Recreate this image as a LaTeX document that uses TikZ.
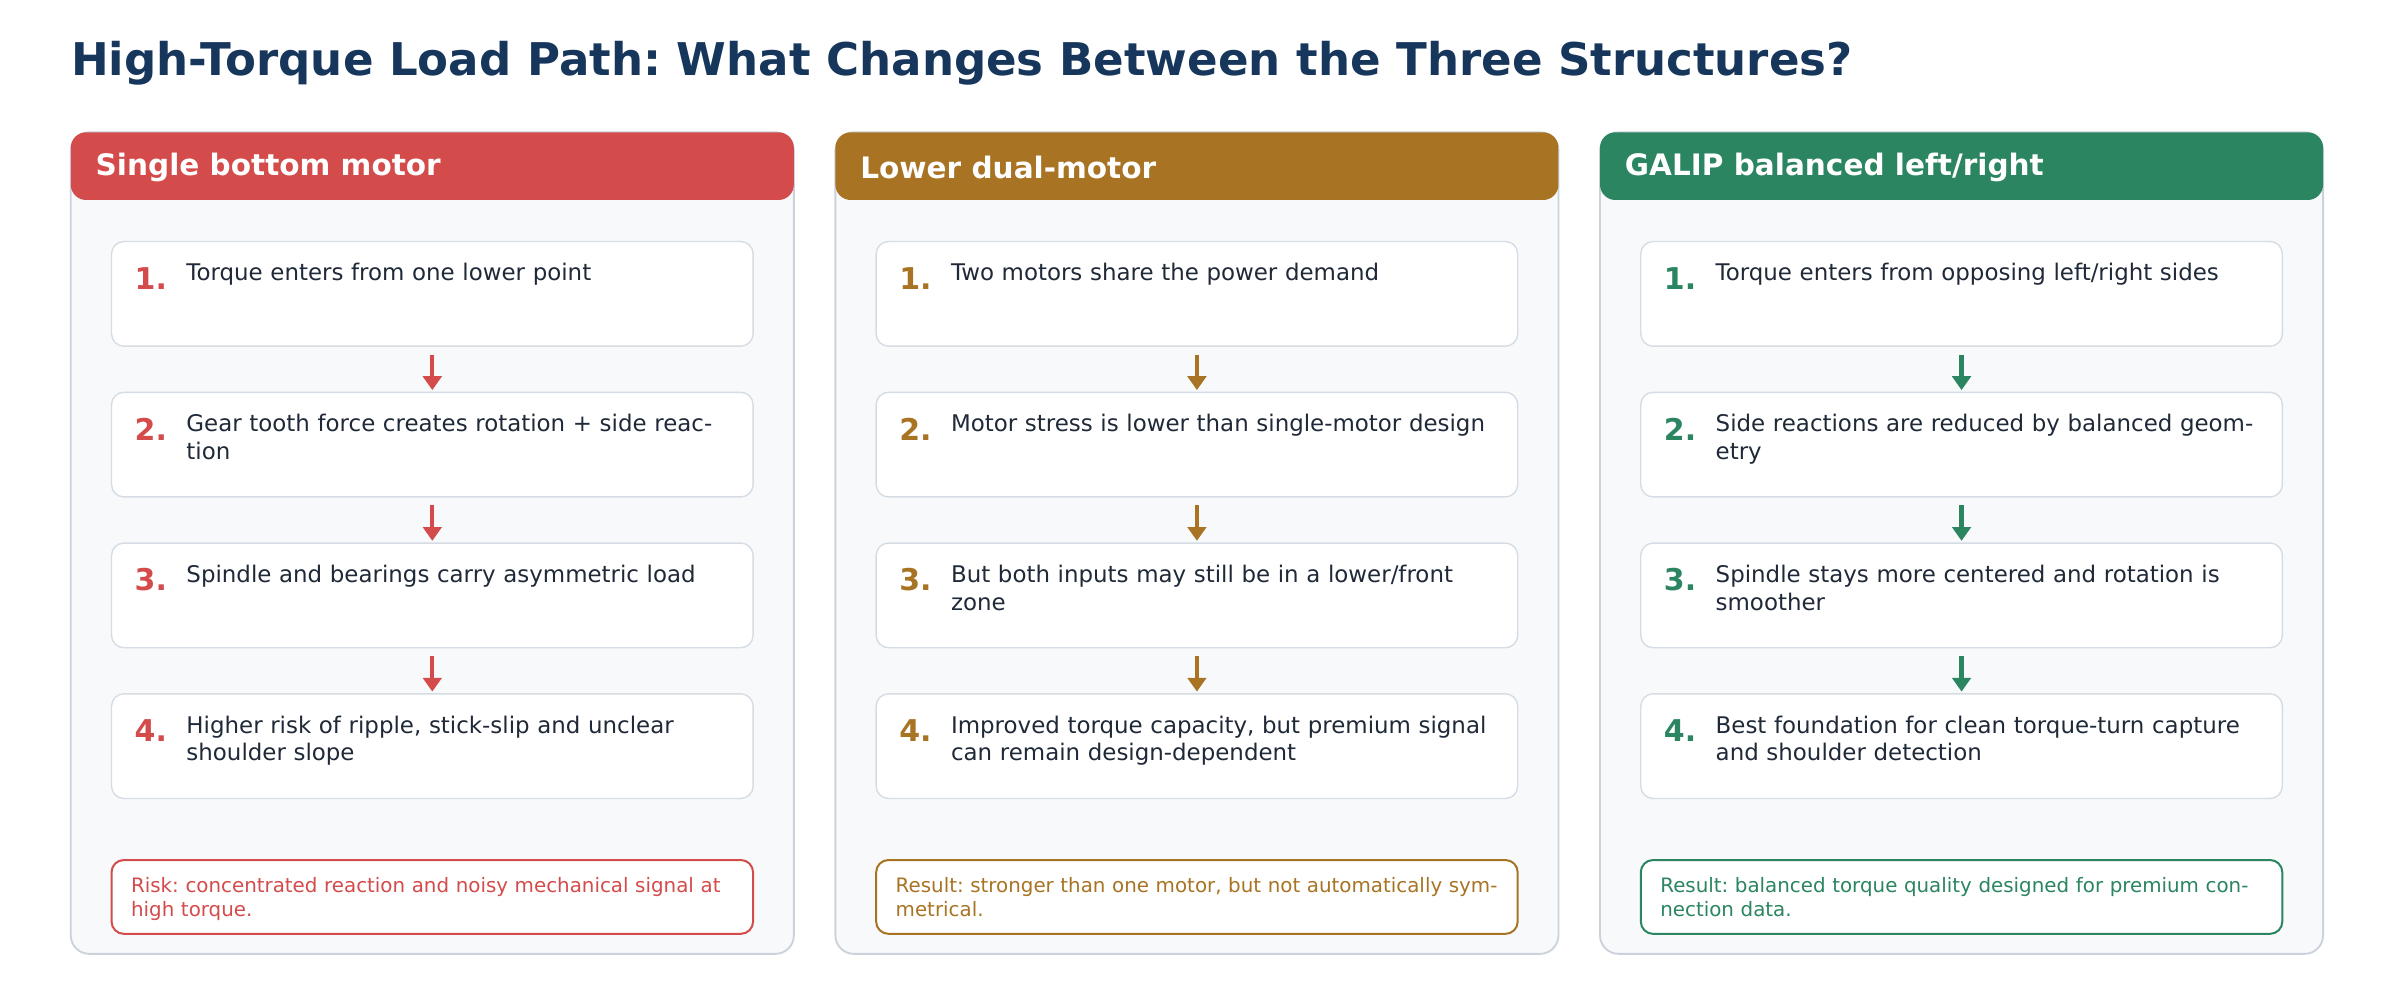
\documentclass[tikz,border=0pt]{standalone}
\usepackage{fontspec}
\setmainfont{DejaVu Sans}
\usetikzlibrary{arrows.meta}
\definecolor{cred}{HTML}{D44B4B}
\definecolor{cbrown}{HTML}{A87424}
\definecolor{cgreen}{HTML}{2B8560}
\definecolor{navy}{HTML}{17365C}
\definecolor{ink}{HTML}{1F2937}
\definecolor{panelbg}{HTML}{F7F9FB}
\definecolor{panelline}{HTML}{CBD2DB}
\definecolor{boxline}{HTML}{D5DCE4}
\newcommand{\nohyph}{\hyphenpenalty=10000\relax\exhyphenpenalty=10000\relax}

% one column: name, left x, colour, heading, four steps, result
\newcommand{\flowpanel}[9]{%
  \draw[panel] (#2,86) rectangle ++(470,534);
  \fill[#3, rounded corners=10pt] (#2,86) rectangle ++(470,44);
  \node[headtext, anchor=west] (#1head) at (#2+16,109) {#4};
  \foreach \k/\txt in {1/{#5},2/{#6},3/{#7},4/{#8}} {
    \node[stepbox] (#1s\k) at (#2+235,{191+98*(\k-1)}) {};
    \node[numtext, text=#3] (#1n\k) at (#2+52,{181+98*(\k-1)}) {\k.};
    \node[steptext, anchor=north west] (#1t\k) at (#2+75,{171+98*(\k-1)}) {\nohyph\txt};
  }
  \foreach \k/\m in {1/2,2/3,3/4}
    \draw[arrow, draw=#3, fill=#3] (#1s\k) -- (#1s\m);
  \node[resultbox, draw=#3] (#1res) at (#2+235,583) {};
  \node[resulttext, text=#3, anchor=north west] (#1rest) at (#2+39,570) {\nohyph#9};
}

\begin{document}
\frenchspacing
\begin{tikzpicture}[
    x=1pt, y=-1pt,
    panel/.style={draw=panelline, line width=1.2pt, fill=panelbg, rounded corners=12pt},
    headtext/.style={text=white, font=\bfseries\fontsize{19.2}{22}\selectfont, inner sep=0pt},
    stepbox/.style={draw=boxline, line width=0.9pt, fill=white, rounded corners=8pt, minimum width=417pt, minimum height=68pt, inner sep=0pt},
    numtext/.style={font=\bfseries\fontsize{19.5}{22}\selectfont, inner sep=0pt},
    steptext/.style={text=ink, text width=352pt, align=left, inner sep=0pt, font=\fontsize{14.9}{18}\selectfont},
    resultbox/.style={line width=1.3pt, fill=white, rounded corners=8pt, minimum width=417pt, minimum height=48pt, inner sep=0pt},
    resulttext/.style={text width=395pt, align=left, inner sep=0pt, font=\fontsize{12.9}{16}\selectfont},
    arrow/.style={-{Triangle[width=12pt,length=9pt]}, line width=2.8pt, shorten <=5pt, shorten >=1pt}
]
    \useasboundingbox[fill=white] (0,0) rectangle (1560,650);

    % Title
    \node[anchor=west, text=navy, inner sep=0pt, font=\bfseries\fontsize{29.3}{33}\selectfont] (title) at (46,41) {High-Torque Load Path: What Changes Between the Three Structures?};

    % Single bottom motor
    \flowpanel{single}{46}{cred}{Single bottom motor}
      {Torque enters from one lower point}
      {Gear tooth force creates rotation + side reaction}
      {Spindle and bearings carry asymmetric load}
      {Higher risk of ripple, stick-slip and unclear shoulder slope}
      {Risk: concentrated reaction and noisy mechanical signal at high torque.}

    % Lower dual-motor
    \flowpanel{dual}{543}{cbrown}{Lower dual-motor}
      {Two motors share the power demand}
      {Motor stress is lower than single-motor design}
      {But both inputs may still be in a lower/front zone}
      {Improved torque capacity, but premium signal can remain design-dependent}
      {Result: stronger than one motor, but not automatically symmetrical.}

    % GALIP balanced
    \flowpanel{galip}{1040}{cgreen}{GALIP balanced left/right}
      {Torque enters from opposing left/right sides}
      {Side reactions are reduced by balanced geometry}
      {Spindle stays more centered and rotation is smoother}
      {Best foundation for clean torque-turn capture and shoulder detection}
      {Result: balanced torque quality designed for premium connection data.}
\end{tikzpicture}
\end{document}
